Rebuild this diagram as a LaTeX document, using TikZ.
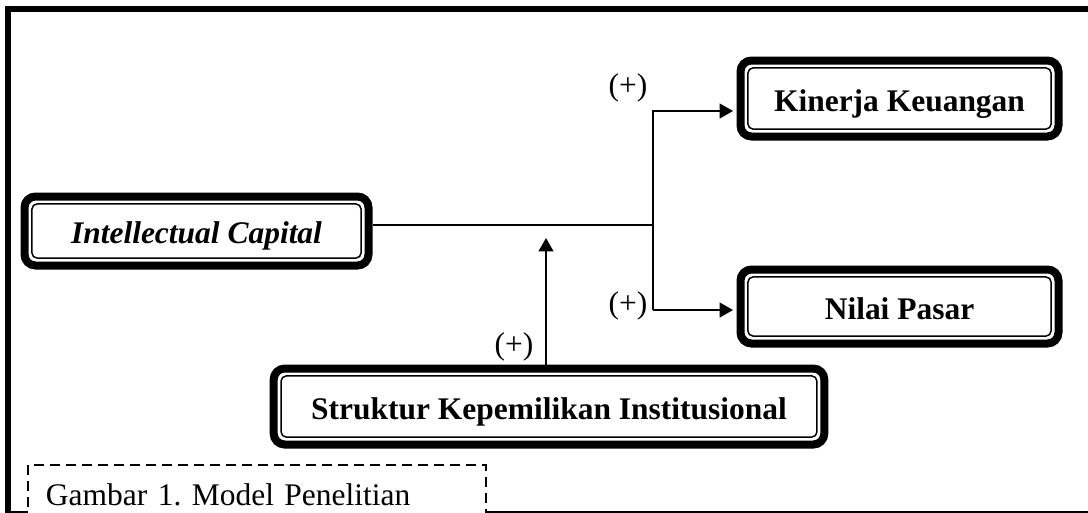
\documentclass[tikz,border=0pt]{standalone}
\usepackage{fontspec}
\setmainfont{Liberation Serif}
\usetikzlibrary{arrows.meta,positioning}

\begin{document}
\frenchspacing
\begin{tikzpicture}[
    x=0.75pt, y=-0.75pt,
    every node/.style={font=\fontsize{23.6}{28}\selectfont},
    varbox/.style={draw=black, line width=6pt, rounded corners=8.25pt, fill=white, align=center, inner sep=0pt,
        text height=19pt, text depth=0pt,
        font=\fontsize{23.6}{28}\selectfont\bfseries,
        path picture={\draw[line width=1.1pt, rounded corners=3.75pt]
            ([shift={(5.6pt,-5.6pt)}]path picture bounding box.north west) rectangle
            ([shift={(-5.6pt,5.6pt)}]path picture bounding box.south east);}},
    link/.style={line width=1.5pt},
    arr/.style={link, -{Triangle[length=10pt,width=11pt]}, shorten >=2.6pt},
    sign/.style={inner sep=0pt},
    capbox/.style={draw=black, dash pattern=on 7.5pt off 4.5pt, line width=1.4pt, fill=white, align=left},
    frame/.style={draw=black, line width=4.5pt}
]

    % Outer frame (cut by the page edge)
    \begin{scope}
        \clip (0,0) rectangle (1088,512);
        \draw[frame] (7.5,8.5) rectangle (1095,513.5);
    \end{scope}
    \useasboundingbox (0,0) rectangle (1088,512);

    % Variables
    \node[varbox, minimum width=258pt, minimum height=51.75pt] (ic) at (196.5,231) {\textit{Intellectual Capital}};
    \node[varbox, minimum width=238.5pt, minimum height=57pt] (kk) at (899.5,98.5) {Kinerja Keuangan};
    \node[varbox, minimum width=238.5pt, minimum height=55.5pt] (np) at (899.5,306.5) {Nilai Pasar};
    \node[varbox, minimum width=413pt, minimum height=57pt] (sk) at (549,406.5) {Struktur Kepemilikan Institusional};

    % Branch points
    \coordinate (mid) at (653,225);
    \coordinate (up) at (653,111);
    \coordinate (down) at (653,310);
    \coordinate (mod) at (546,238);

    % Connectors
    \draw[link] (ic.east |- mid) -- (mid);
    \draw[arr] (down) -- (up) -- (up -| kk.west);
    \draw[arr] (down) -- (down -| np.west);
    \draw[arr, shorten >=0pt] (sk.north -| mod) -- (mod);

    % Signs
    \node[sign] (s1) at (628,88) {(+)};
    \node[sign] (s2) at (628,306) {(+)};
    \node[sign] (s3) at (514,347) {(+)};

    % Caption
    \node[capbox, anchor=north west, text width=316.5pt, inner xsep=13.5pt, minimum height=45pt] (cap) at (27,464) {Gambar 1. Model Penelitian};

\end{tikzpicture}
\end{document}
